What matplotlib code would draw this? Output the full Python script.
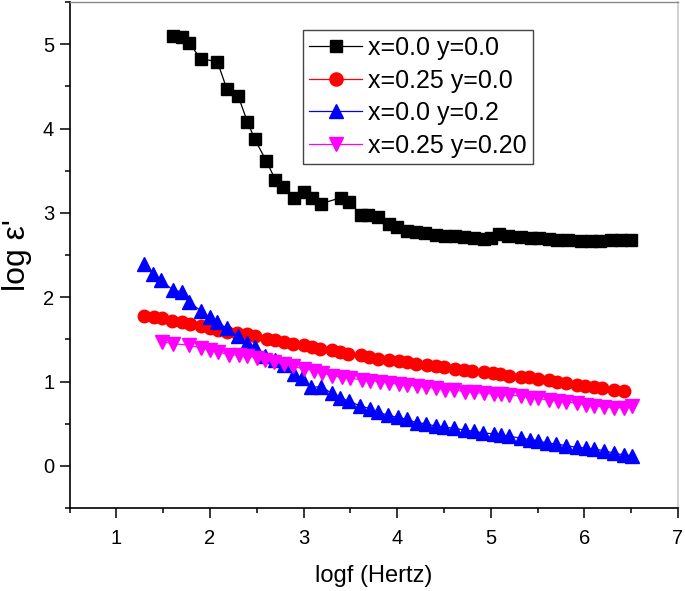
import matplotlib
matplotlib.use("Agg")
import matplotlib.pyplot as plt
from matplotlib.ticker import MultipleLocator

plt.rcParams['font.family'] = ['Liberation Sans', 'DejaVu Sans']

labels = ["x=0.0 y=0.0", "x=0.25 y=0.0", "x=0.0 y=0.2", "x=0.25 y=0.20"]

black_x = [1.60, 1.70, 1.78, 1.90, 2.08, 2.18, 2.30, 2.40, 2.48, 2.60, 2.70, 2.78, 2.90, 3.00,
           3.09, 3.19, 3.40, 3.49, 3.61, 3.69, 3.79, 3.91, 4.00, 4.11, 4.20, 4.30, 4.41, 4.51,
           4.62, 4.71, 4.82, 4.93, 5.00, 5.09, 5.18, 5.32, 5.43, 5.52, 5.62, 5.71, 5.82, 5.96,
           6.07, 6.17, 6.28, 6.39, 6.50]
black_y = [5.10, 5.09, 5.01, 4.83, 4.79, 4.47, 4.39, 4.08, 3.87, 3.62, 3.39, 3.31, 3.18, 3.25,
           3.18, 3.11, 3.18, 3.13, 2.98, 2.98, 2.95, 2.87, 2.83, 2.79, 2.77, 2.76, 2.74, 2.73,
           2.72, 2.71, 2.70, 2.69, 2.70, 2.75, 2.73, 2.71, 2.70, 2.70, 2.69, 2.68, 2.68, 2.67,
           2.67, 2.67, 2.68, 2.68, 2.68]

red_x = [1.30, 1.40, 1.49, 1.59, 1.70, 1.79, 1.90, 2.00, 2.09, 2.18, 2.29, 2.40, 2.48, 2.61,
         2.70, 2.79, 2.89, 3.00, 3.09, 3.18, 3.30, 3.39, 3.48, 3.61, 3.70, 3.79, 3.91, 4.02,
         4.11, 4.20, 4.32, 4.41, 4.50, 4.62, 4.71, 4.80, 4.93, 5.02, 5.10, 5.19, 5.32, 5.41,
         5.50, 5.62, 5.71, 5.80, 5.92, 6.01, 6.10, 6.19, 6.32, 6.42]
red_y = [1.78, 1.76, 1.75, 1.72, 1.70, 1.68, 1.66, 1.63, 1.61, 1.59, 1.57, 1.56, 1.54, 1.51,
         1.49, 1.47, 1.45, 1.43, 1.41, 1.39, 1.37, 1.35, 1.33, 1.31, 1.29, 1.27, 1.26, 1.24,
         1.23, 1.21, 1.19, 1.18, 1.17, 1.15, 1.14, 1.13, 1.11, 1.10, 1.09, 1.07, 1.05, 1.05,
         1.03, 1.02, 1.00, 0.98, 0.96, 0.95, 0.94, 0.92, 0.90, 0.89]

blue_x = [1.30, 1.39, 1.475, 1.60, 1.70, 1.78, 1.90, 2.00, 2.08, 2.18, 2.30, 2.40, 2.48, 2.59,
          2.70, 2.79, 2.90, 2.98, 3.08, 3.19, 3.30, 3.39, 3.49, 3.60, 3.71, 3.79, 3.90, 4.01,
          4.11, 4.21, 4.31, 4.41, 4.50, 4.61, 4.72, 4.82, 4.92, 5.03, 5.11, 5.19, 5.32, 5.42,
          5.50, 5.60, 5.70, 5.80, 5.92, 6.02, 6.10, 6.21, 6.32, 6.42, 6.51]
blue_y = [2.39, 2.28, 2.20, 2.09, 2.06, 1.94, 1.84, 1.76, 1.70, 1.63, 1.54, 1.46, 1.41, 1.30,
          1.25, 1.19, 1.09, 1.04, 0.93, 0.94, 0.86, 0.80, 0.77, 0.71, 0.68, 0.64, 0.60, 0.575,
          0.55, 0.51, 0.50, 0.47, 0.46, 0.445, 0.425, 0.41, 0.39, 0.38, 0.37, 0.35, 0.33, 0.31,
          0.30, 0.27, 0.26, 0.24, 0.22, 0.21, 0.20, 0.18, 0.15, 0.13, 0.12]

mag_x = [1.49, 1.60, 1.78, 1.90, 2.00, 2.09, 2.20, 2.31, 2.40, 2.50, 2.59, 2.68, 2.79, 2.89,
         3.00, 3.11, 3.20, 3.30, 3.41, 3.50, 3.62, 3.71, 3.82, 3.91, 4.02, 4.11, 4.21, 4.31,
         4.41, 4.51, 4.61, 4.72, 4.82, 4.93, 5.03, 5.11, 5.19, 5.32, 5.42, 5.50, 5.62, 5.72,
         5.80, 5.92, 6.02, 6.10, 6.21, 6.32, 6.42, 6.51]
mag_y = [1.47, 1.45, 1.43, 1.40, 1.37, 1.35, 1.32, 1.31, 1.30, 1.28, 1.26, 1.23, 1.21, 1.18,
         1.15, 1.13, 1.10, 1.07, 1.05, 1.04, 1.02, 1.01, 1.00, 0.98, 0.97, 0.96, 0.945, 0.93,
         0.92, 0.905, 0.90, 0.88, 0.87, 0.86, 0.85, 0.85, 0.84, 0.83, 0.81, 0.80, 0.78, 0.77,
         0.76, 0.74, 0.72, 0.71, 0.70, 0.69, 0.69, 0.71]

fig = plt.figure(figsize=(6.85, 5.91), dpi=100)
ax = fig.add_axes([0.1015, 0.1404, 0.8883, 0.8562])

ax.plot(black_x, black_y, '-s', color='black', lw=0.9, ms=8, label=labels[0], zorder=3)
ax.plot(red_x, red_y, '-o', color='#FF0000', lw=0.9, ms=9, label=labels[1], zorder=3)
ax.plot(blue_x, blue_y, '-^', color='#0000FF', lw=0.9, ms=10, label=labels[2], zorder=3)
ax.plot(mag_x, mag_y, '-v', color='#FF00FF', lw=0.9, ms=10, label=labels[3], zorder=3)

ax.set_xlim(0.5, 7)
ax.set_ylim(-0.5, 5.5)
ax.xaxis.set_major_locator(MultipleLocator(1))
ax.xaxis.set_minor_locator(MultipleLocator(0.5))
ax.yaxis.set_major_locator(MultipleLocator(1))
ax.yaxis.set_minor_locator(MultipleLocator(0.5))
ax.tick_params(which='major', direction='out', length=7, width=1.1, labelsize=14.5)
ax.tick_params(which='minor', direction='out', length=3.8, width=1.1)
ax.tick_params(axis='x', which='major', pad=8)
ax.tick_params(axis='y', which='major', pad=4)
ax.tick_params(top=False, right=False)

for s in ['left', 'bottom']:
    ax.spines[s].set_linewidth(1.2)
    ax.spines[s].set_color('black')
ax.spines['top'].set_color('#888888')
ax.spines['top'].set_linewidth(1.0)
ax.spines['right'].set_color('#c8c8c8')
ax.spines['right'].set_linewidth(1.2)

ax.set_xlabel('logf (Hertz)', fontsize=17, labelpad=12)
ax.set_ylabel("log ε'", fontsize=23, labelpad=8)

leg = ax.legend(loc='upper left', bbox_to_anchor=(0.384, 0.945), fontsize=18,
                frameon=True, fancybox=False, edgecolor='#444444', framealpha=1,
                handlelength=2.1, handletextpad=0.25, labelspacing=0.34,
                borderpad=0.25, borderaxespad=0, markerscale=1.05)
leg.get_frame().set_linewidth(1.0)

fig.savefig('out.png', dpi=100)
